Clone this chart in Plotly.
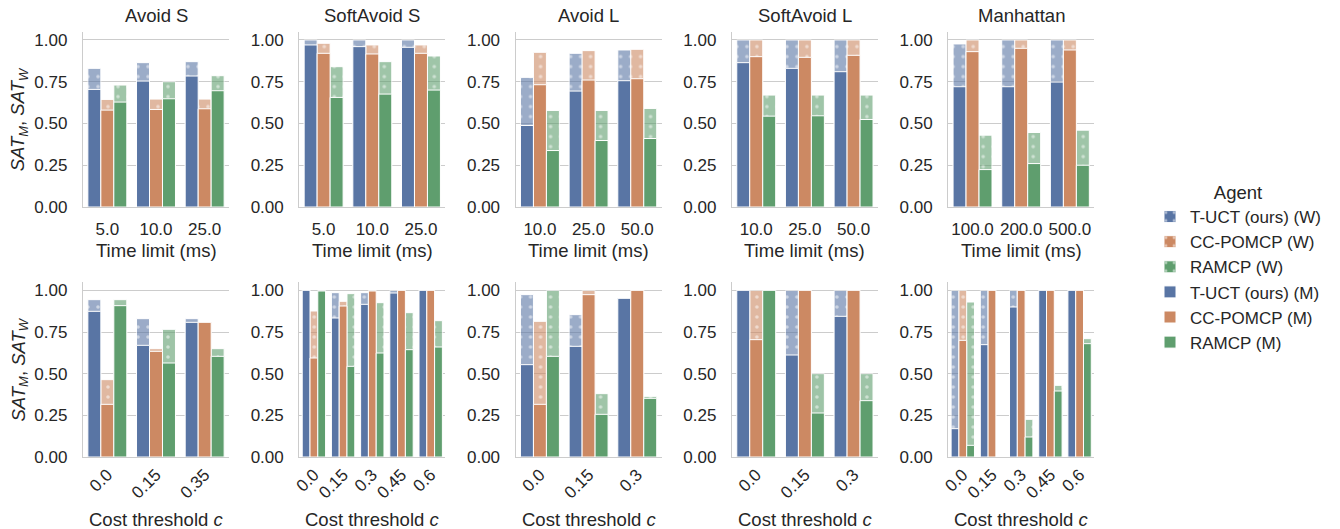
import plotly.graph_objects as go

agents = ["T-UCT (ours)", "CC-POMCP", "RAMCP"]
colors = ["#5975a4", "#cc8963", "#5f9e6e"]
panel_titles = ["Avoid S", "SoftAvoid S", "Avoid L", "SoftAvoid L", "Manhattan"]

time_ticks = [["5.0", "10.0", "25.0"], ["5.0", "10.0", "25.0"], ["10.0", "25.0", "50.0"],
              ["10.0", "25.0", "50.0"], ["100.0", "200.0", "500.0"]]
cost_ticks = [["0.0", "0.15", "0.35"], ["0.0", "0.15", "0.3", "0.45", "0.6"], ["0.0", "0.15", "0.3"],
              ["0.0", "0.15", "0.3"], ["0.0", "0.15", "0.3", "0.45", "0.6"]]

# ---- Top row (time limit) : [agent][category]
time_M = [
    [[0.704, 0.754, 0.784], [0.580, 0.584, 0.588], [0.628, 0.648, 0.696]],   # Avoid S
    [[0.970, 0.960, 0.956], [0.920, 0.916, 0.920], [0.656, 0.676, 0.700]],   # SoftAvoid S
    [[0.488, 0.694, 0.756], [0.732, 0.760, 0.768], [0.338, 0.398, 0.410]],   # Avoid L
    [[0.864, 0.830, 0.810], [0.900, 0.896, 0.908], [0.544, 0.546, 0.524]],   # SoftAvoid L
    [[0.720, 0.720, 0.748], [0.930, 0.950, 0.940], [0.224, 0.260, 0.250]],   # Manhattan
]
time_W = [
    [[0.830, 0.864, 0.870], [0.644, 0.646, 0.646], [0.730, 0.750, 0.786]],
    [[1.000, 1.000, 1.000], [0.980, 0.970, 0.970], [0.840, 0.870, 0.904]],
    [[0.776, 0.920, 0.940], [0.926, 0.936, 0.944], [0.578, 0.578, 0.590]],
    [[1.000, 1.000, 1.000], [1.000, 1.000, 1.000], [0.670, 0.670, 0.670]],
    [[0.976, 1.000, 1.000], [1.000, 1.000, 1.000], [0.430, 0.446, 0.460]],
]

# ---- Bottom row (cost threshold)
cost_M = [
    [[0.874, 0.670, 0.808], [0.316, 0.634, 0.808], [0.908, 0.564, 0.604]],
    [[1.000, 0.834, 0.916, 0.984, 1.000], [0.594, 0.906, 0.996, 1.000, 1.000], [0.996, 0.544, 0.624, 0.644, 0.660]],
    [[0.554, 0.664, 0.952], [0.316, 0.974, 1.000], [0.604, 0.256, 0.352]],
    [[1.000, 0.612, 0.844], [0.704, 1.000, 1.000], [1.000, 0.264, 0.338]],
    [[0.170, 0.674, 0.900, 1.000, 1.000], [0.700, 1.000, 1.000, 1.000, 1.000], [0.070, 0.000, 0.120, 0.396, 0.680]],
]
cost_W = [
    [[0.944, 0.830, 0.830], [0.464, 0.650, 0.808], [0.944, 0.766, 0.650]],
    [[1.000, 0.986, 0.986, 1.000, 1.000], [0.876, 0.934, 1.000, 1.000, 1.000], [1.000, 0.980, 0.926, 0.866, 0.818]],
    [[0.974, 0.854, 0.952], [0.814, 1.000, 1.000], [1.000, 0.380, 0.364]],
    [[1.000, 1.000, 1.000], [1.000, 1.000, 1.000], [1.000, 0.500, 0.500]],
    [[1.000, 1.000, 1.000, 1.000, 1.000], [1.000, 1.000, 1.000, 1.000, 1.000], [0.930, 0.000, 0.226, 0.430, 0.710]],
]

W_, H_ = 1340, 529
fig = go.Figure()
layout = {}

FONT = "Liberation Sans, Arial, sans-serif"
tick_font = dict(family=FONT, size=17, color="#262626")
lab_font = dict(family=FONT, size=18.5, color="#262626")
leg_font = dict(family=FONT, size=17, color="#262626")

left0, step, pw = 83, 216.3, 146
rows_px = [(31.6, 207.0), (282.0, 457.0)]

bw = 0.8 / 3
annotations = []
for r in range(2):
    for p in range(5):
        idx = r * 5 + p + 1
        xa = "x" if idx == 1 else f"x{idx}"
        ya = "y" if idx == 1 else f"y{idx}"
        ticks = time_ticks[p] if r == 0 else cost_ticks[p]
        Mv = time_M[p] if r == 0 else cost_M[p]
        Wv = time_W[p] if r == 0 else cost_W[p]
        n = len(ticks)
        xs = list(range(n))
        show = (r == 0 and p == 0)
        for j in range(3):
            fig.add_trace(go.Bar(
                x=xs, y=Wv[j], xaxis=xa, yaxis=ya, width=bw, offset=-0.4 + j * bw,
                name=f"{agents[j]} (W)", legendgroup=f"W{j}", showlegend=show,
                marker=dict(color=colors[j], opacity=0.6,
                            line=dict(color="white", width=1),
                            pattern=dict(shape=".", fgcolor="white", size=10, solidity=0.1)),
                hoverinfo="skip"))
        for j in range(3):
            fig.add_trace(go.Bar(
                x=xs, y=Mv[j], xaxis=xa, yaxis=ya, width=bw, offset=-0.4 + j * bw,
                name=f"{agents[j]} (M)", legendgroup=f"M{j}", showlegend=show,
                marker=dict(color=colors[j], line=dict(color="white", width=1)),
                hoverinfo="skip"))
        x0 = (left0 + step * p) / W_
        x1 = (left0 + step * p + pw) / W_
        top, bot = rows_px[r]
        y0 = 1 - bot / H_
        y1 = 1 - top / H_
        xax = dict(
            domain=[x0, x1], anchor=ya, range=[-0.5, n - 0.5], automargin=False,
            tickvals=xs, ticktext=ticks, tickfont=tick_font,
            tickangle=0 if r == 0 else -45,
            showline=True, linecolor="#cccccc", linewidth=1.3, showgrid=False, zeroline=False)
        if r == 0:
            xax.update(ticks="outside", ticklen=6, tickcolor="rgba(0,0,0,0)")
        else:
            xax.update(ticks="")
        layout["xaxis" if idx == 1 else f"xaxis{idx}"] = xax
        layout["yaxis" if idx == 1 else f"yaxis{idx}"] = dict(
            domain=[y0, y1], anchor=xa, range=[0, 1.05], automargin=False,
            tickvals=[0, 0.25, 0.5, 0.75, 1.0], ticktext=["0.00", "0.25", "0.50", "0.75", "1.00"],
            tickfont=tick_font, showgrid=True, gridcolor="#cccccc", gridwidth=1,
            showline=True, linecolor="#cccccc", linewidth=1.3, zeroline=False,
            ticks="outside", ticklen=11, tickcolor="rgba(0,0,0,0)")
        xc = (x0 + x1) / 2
        if r == 0:
            annotations.append(dict(text=panel_titles[p], x=xc, y=1 - 15 / H_, xref="paper", yref="paper",
                                    showarrow=False, font=lab_font, xanchor="center", yanchor="middle"))
            annotations.append(dict(text="Time limit (ms)", x=xc, y=1 - 250 / H_, xref="paper", yref="paper",
                                    showarrow=False, font=lab_font, xanchor="center", yanchor="middle"))
        else:
            annotations.append(dict(text="Cost threshold <i>c</i>", x=xc, y=1 - 519 / H_, xref="paper",
                                    yref="paper", showarrow=False, font=lab_font,
                                    xanchor="center", yanchor="middle"))
        if p == 0:
            yc = 1 - ((top + bot) / 2) / H_
            annotations.append(dict(text="<i>SAT<sub>M</sub></i>, <i>SAT<sub>W</sub></i>",
                                    x=19 / W_, y=yc, xref="paper", yref="paper", textangle=-90,
                                    showarrow=False, font=lab_font, xanchor="center", yanchor="middle"))

fig.update_layout(**layout)
fig.update_layout(
    width=W_, height=H_, margin=dict(l=0, r=0, t=0, b=0, autoexpand=False),
    barmode="overlay", plot_bgcolor="white", paper_bgcolor="white",
    annotations=annotations,
    legend=dict(title=dict(text="Agent", font=lab_font, side="top center"),
                font=leg_font, x=1150 / W_, y=1 - 175 / H_, xanchor="left", yanchor="top",
                tracegroupgap=2, traceorder="normal", bgcolor="rgba(0,0,0,0)"),
)
fig.write_html("out.html", config={"displayModeBar": False},
               post_script="document.body.style.margin='0';document.body.style.overflow='hidden';")
